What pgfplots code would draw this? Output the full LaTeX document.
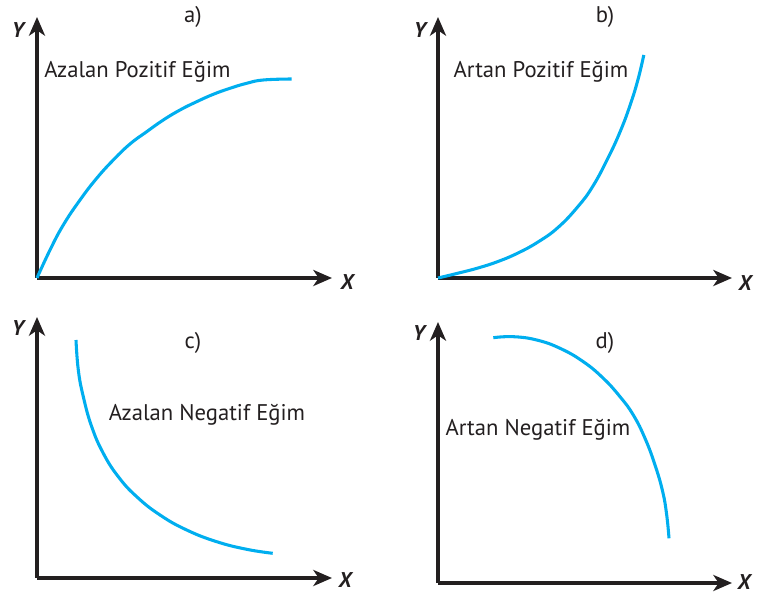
\documentclass[border=0pt]{standalone}
\usepackage{fontspec}
\setmainfont{PT Sans}
\usepackage{pgfplots}
\pgfplotsset{compat=1.18}
\usetikzlibrary{arrows.meta}

\definecolor{curveblue}{HTML}{00AEEF}
\definecolor{axisdark}{HTML}{231F20}

\pgfplotsset{
  panel/.style={
    x=0.75pt, y=0.75pt,
    xmin=0, ymin=0,
    axis x line=bottom, axis y line=left,
    xtick=\empty, ytick=\empty,
    clip=false, anchor=south west,
    axis line style={line width=2.5pt, color=axisdark,
      -{Stealth[length=14pt,width=12pt,inset=4pt]}},
  },
  curve/.style={curveblue, line width=2.3pt, smooth, tension=0.75, no marks},
}
\tikzset{
  axlab/.style={font=\fontsize{16}{17}\selectfont\bfseries\itshape, inner sep=0pt, text=axisdark},
  txt/.style={font=\fontsize{17}{18}\selectfont, inner sep=0pt, text=axisdark},
}

\begin{document}
\begin{tikzpicture}
\useasboundingbox (0,0) rectangle (567.75pt,447pt);

% a) Azalan Pozitif Egim
\begin{axis}[panel, at={(27.75pt,238.5pt)}, xmax=295, ymax=261]
  \addplot[curve] coordinates {
    (0,0) (13,28) (26.3,53) (43,78) (59.7,99.7) (76.3,118) (93,134)
    (109.7,146.3) (126.3,158) (143,168) (159.7,176.3) (176.3,183.7)
    (193,189.7) (209.7,194.7) (226.3,198) (254.7,199)};
  \node[axlab] at (axis cs:-19,248) {Y};
  \node[axlab] at (axis cs:310,-4) {X};
  \node[txt] at (axis cs:156,261) {a)};
  \node[txt] at (axis cs:100.5,206) {Azalan Pozitif Eğim};
\end{axis}

% b) Artan Pozitif Egim
\begin{axis}[panel, at={(328.5pt,238.5pt)}, xmax=294, ymax=261]
  \addplot[curve] coordinates {
    (0,0) (20,4.8) (40,10) (60,16.5) (80,25) (100,36) (120,50.5)
    (140,71.5) (155,92) (170,120) (182,146) (192,172.5) (200,198.5)
    (205.8,223)};
  \node[axlab] at (axis cs:-18,248) {Y};
  \node[axlab] at (axis cs:307,-5) {X};
  \node[txt] at (axis cs:167,261) {b)};
  \node[txt] at (axis cs:103,206) {Artan Pozitif Eğim};
\end{axis}

% c) Azalan Negatif Egim
\begin{axis}[panel, at={(27.75pt,13.5pt)}, xmax=295, ymax=261]
  \addplot[curve] coordinates {
    (39,238) (41.3,208) (46.3,181.3) (54.7,151.3) (66.3,124.7)
    (81.3,101.3) (99.7,81.3) (123,63) (149.7,48) (179.7,36.3)
    (209.7,28.7) (235.7,24.7)};
  \node[axlab] at (axis cs:-19,250) {Y};
  \node[axlab] at (axis cs:308,-2) {X};
  \node[txt] at (axis cs:156,235) {c)};
  \node[txt] at (axis cs:170,163) {Azalan Negatif Eğim};
\end{axis}

% d) Artan Negatif Egim
\begin{axis}[panel, at={(328.5pt,9.75pt)}, xmax=294, ymax=261]
  \addplot[curve] coordinates {
    (55.3,245.3) (75.3,246.3) (98.7,243) (122,234.7) (145.3,221.3)
    (165.3,204.7) (182,186.3) (195.3,168) (207,144.7) (217,118)
    (224.7,91.3) (228.7,68) (231,44.7)};
  \node[axlab] at (axis cs:-19,250) {Y};
  \node[axlab] at (axis cs:306,1) {X};
  \node[txt] at (axis cs:167,240) {d)};
  \node[txt] at (axis cs:100,153) {Artan Negatif Eğim};
\end{axis}
\end{tikzpicture}
\end{document}
